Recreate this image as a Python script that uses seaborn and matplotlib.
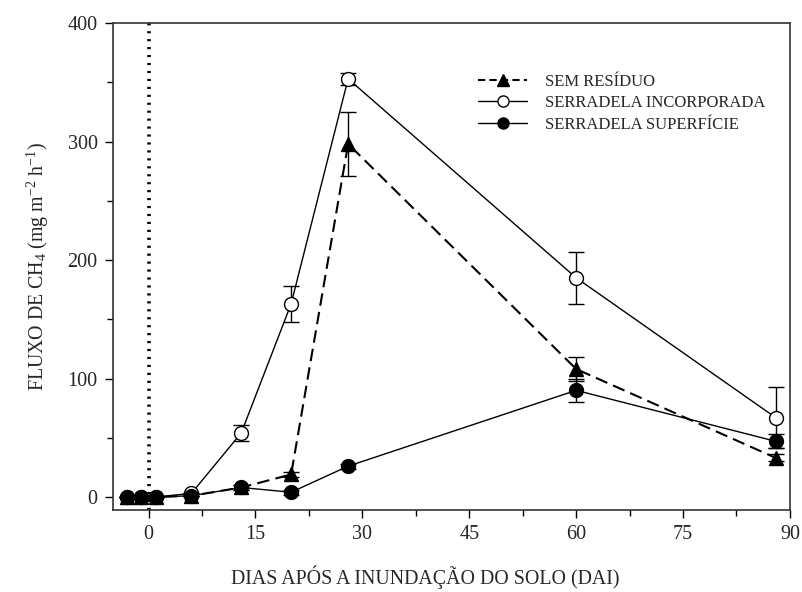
import matplotlib as mpl
mpl.use('Agg')
import matplotlib.pyplot as plt
from matplotlib.lines import Line2D
import numpy as np
import pandas as pd
import seaborn as sns

days = [-3, -1, 1, 6, 13, 20, 28, 60, 88]

sem_residuo = [0, 0, 0, 1, 8, 19, 298, 108, 33]
sem_residuo_err = [0, 0, 0, 0, 2, 2, 27, 10, 3]

serr_incorp = [0, 0, 0, 3, 54, 163, 353, 185, 67]
serr_incorp_err = [0, 0, 0, 0, 6.5, 15, 5, 22, 26]

serr_superf = [0, 0, 0, 1, 8, 4, 26, 90, 47]
serr_superf_err = [0, 0, 0, 0, 2, 2, 2, 10, 6]

names = ['SEM RESÍDUO', 'SERRADELA INCORPORADA', 'SERRADELA SUPERFÍCIE']

sns.set_theme(style='ticks')
plt.rcParams['font.family'] = ['Liberation Serif', 'DejaVu Serif']
plt.rcParams['mathtext.fontset'] = 'custom'
plt.rcParams['mathtext.rm'] = 'Liberation Serif'
plt.rcParams['mathtext.default'] = 'regular'
plt.rcParams['xtick.direction'] = 'out'
plt.rcParams['ytick.direction'] = 'out'

series = [
    (names[0], sem_residuo, sem_residuo_err, dict(marker='^', mfc='black', ls=(0, (6, 3)), lw=1.5)),
    (names[1], serr_incorp, serr_incorp_err, dict(marker='o', mfc='white', ls='-', lw=1.0)),
    (names[2], serr_superf, serr_superf_err, dict(marker='o', mfc='black', ls='-', lw=1.0)),
]

fig = plt.figure(figsize=(8.03, 5.92), dpi=100)
ax = fig.add_axes([0.1407, 0.1385, 0.843, 0.8225])

# dotted line on flooding day
ax.axvline(0, color='black', linestyle=(0, (0.6, 1.6)), lw=2.6, zorder=1)

for name, vals, errs, st in series:
    df = pd.DataFrame({'dia': days, 'fluxo': vals, 'err': errs})
    ax.errorbar(df.dia, df.fluxo, yerr=df.err, fmt='none', ecolor='black',
                elinewidth=1.0, capsize=6, capthick=1.0, zorder=2)
    sns.lineplot(data=df, x='dia', y='fluxo', color='black', marker=st['marker'],
                 markersize=10, markerfacecolor=st['mfc'], markeredgecolor='black',
                 markeredgewidth=1.0, linestyle=st['ls'], linewidth=st['lw'],
                 ax=ax, zorder=3)

ax.set_xlim(-5, 90)
ax.set_ylim(-11, 400)
ax.set_xticks([0, 15, 30, 45, 60, 75, 90])
ax.set_xticks(np.arange(0, 91, 7.5), minor=True)
ax.set_yticks([0, 100, 200, 300, 400])
ax.set_yticks([50, 150, 250, 350], minor=True)
ax.tick_params(which='major', length=6, width=1, labelsize=14.5, color='black', pad=5)
ax.tick_params(which='minor', length=4, width=1, color='black')
for s in ax.spines.values():
    s.set_linewidth(1.2)
    s.set_color('#333333')

ax.set_xlabel('DIAS APÓS A INUNDAÇÃO DO SOLO (DAI)', fontsize=14.3)
ax.xaxis.set_label_coords(0.462, -0.113)
ax.set_ylabel(r'FLUXO DE CH$_4$ (mg m$^{-2}$ h$^{-1}$)', fontsize=14.3, labelpad=12)

handles = [
    Line2D([], [], color='black', lw=1.5, ls=(0, (3.5, 2)), marker='^', mfc='black', mec='black', ms=8),
    Line2D([], [], color='black', lw=1.0, marker='o', mfc='white', mec='black', ms=8),
    Line2D([], [], color='black', lw=1.0, marker='o', mfc='black', mec='black', ms=8),
]
ax.legend(handles, names, loc='upper left', bbox_to_anchor=(0.53, 0.91), frameon=False,
          fontsize=12.0, handlelength=2.9, labelspacing=0.33, handletextpad=1.1,
          borderaxespad=0)

fig.savefig('out.png', dpi=100)
